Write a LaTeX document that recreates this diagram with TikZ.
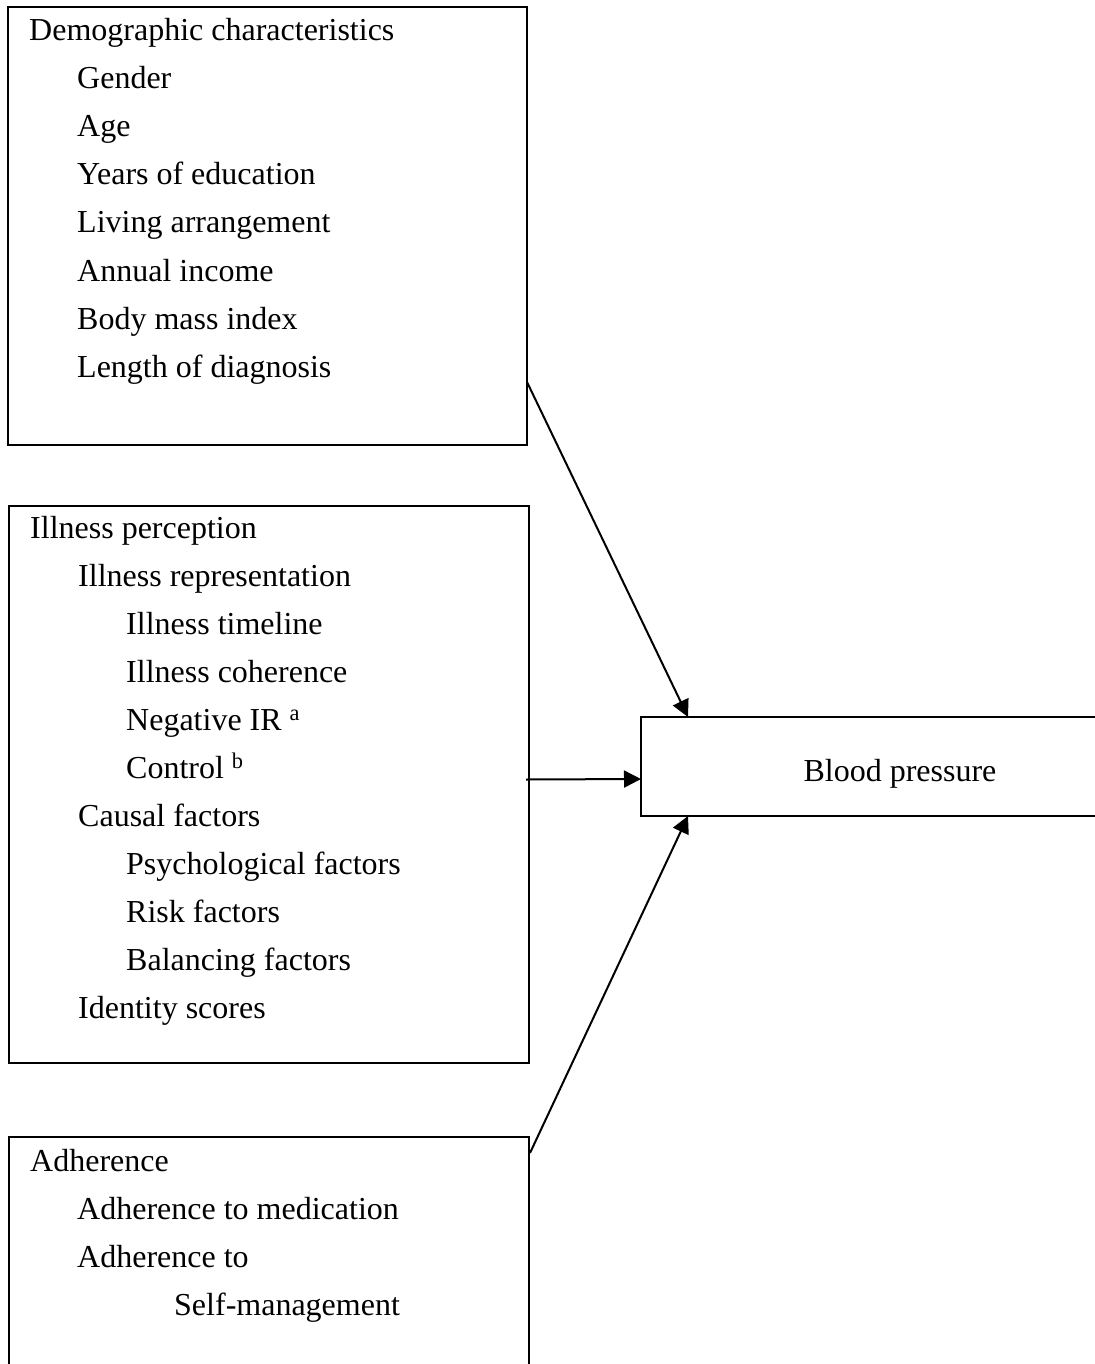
\documentclass[tikz,border=0pt]{standalone}
\usepackage{fontspec}
\setmainfont{Liberation Serif}
\usetikzlibrary{arrows.meta,calc}
\begin{document}
\begin{tikzpicture}[x=1pt,y=-1pt,
  box/.style={draw=black,line width=1.6pt,rectangle,inner sep=0pt,outer sep=0pt,anchor=north west},
  lbl/.style={anchor=base west,inner sep=0pt,font=\fontsize{32}{48}\selectfont},
  arr/.style={line width=2pt,-{Triangle[length=17pt,width=17pt]}}]
\useasboundingbox (0,0) rectangle (1094,1364);
% boxes
\node[box,minimum width=519pt,minimum height=438pt] (demo) at (8,7) {};
\node[box,minimum width=520pt,minimum height=557pt] (ill) at (9,506) {};
\node[box,minimum width=520pt,minimum height=260pt] (adh) at (9,1137) {};
\node[box,minimum width=480pt,minimum height=99pt] (bp) at (641,717) {};
% demographic text
\node[lbl] (d0) at (29,41) {Demographic characteristics};
\node[lbl] (d1) at (77,89) {Gender};
\node[lbl] (d2) at (77,137) {Age};
\node[lbl] (d3) at (77,185) {Years of education};
\node[lbl] (d4) at (77,233) {Living arrangement};
\node[lbl] (d5) at (77,281) {Annual income};
\node[lbl] (d6) at (77,329) {Body mass index};
\node[lbl] (d7) at (77,377) {Length of diagnosis};
% illness perception text
\node[lbl] (i0) at (30,538) {Illness perception};
\node[lbl] (i1) at (78,586) {Illness representation};
\node[lbl] (i2) at (126,634) {Illness timeline};
\node[lbl] (i3) at (126,682) {Illness coherence};
\node[lbl] (i4) at (126,730) {Negative IR \textsuperscript{a}};
\node[lbl] (i5) at (126,778) {Control \textsuperscript{b}};
\node[lbl] (i6) at (78,826) {Causal factors};
\node[lbl] (i7) at (126,874) {Psychological factors};
\node[lbl] (i8) at (126,922) {Risk factors};
\node[lbl] (i9) at (126,970) {Balancing factors};
\node[lbl] (i10) at (78,1018) {Identity scores};
% adherence text
\node[lbl] (a0) at (30,1171) {Adherence};
\node[lbl] (a1) at (77,1219) {Adherence to medication};
\node[lbl] (a2) at (77,1267) {Adherence to};
\node[lbl] (a3) at (174,1315) {Self-management};
% blood pressure text
\node[lbl,anchor=base] (bpt) at (900,781) {Blood pressure};
% connectors
\coordinate (s1) at ($(demo.south east)+(0,-63)$);
\coordinate (e1) at ($(bp.north west)+(47,0)$);
\coordinate (s2) at ($(ill.east)+(-3,-5)$);
\coordinate (e2) at ($(bp.west)+(0,12.5)$);
\coordinate (s3) at ($(adh.north east)+(1,16)$);
\coordinate (e3) at ($(bp.south west)+(47,0)$);
\draw[arr] (s1) -- (e1);
\draw[arr] (s2) -- (e2);
\draw[arr] (s3) -- (e3);
\end{tikzpicture}
\end{document}
